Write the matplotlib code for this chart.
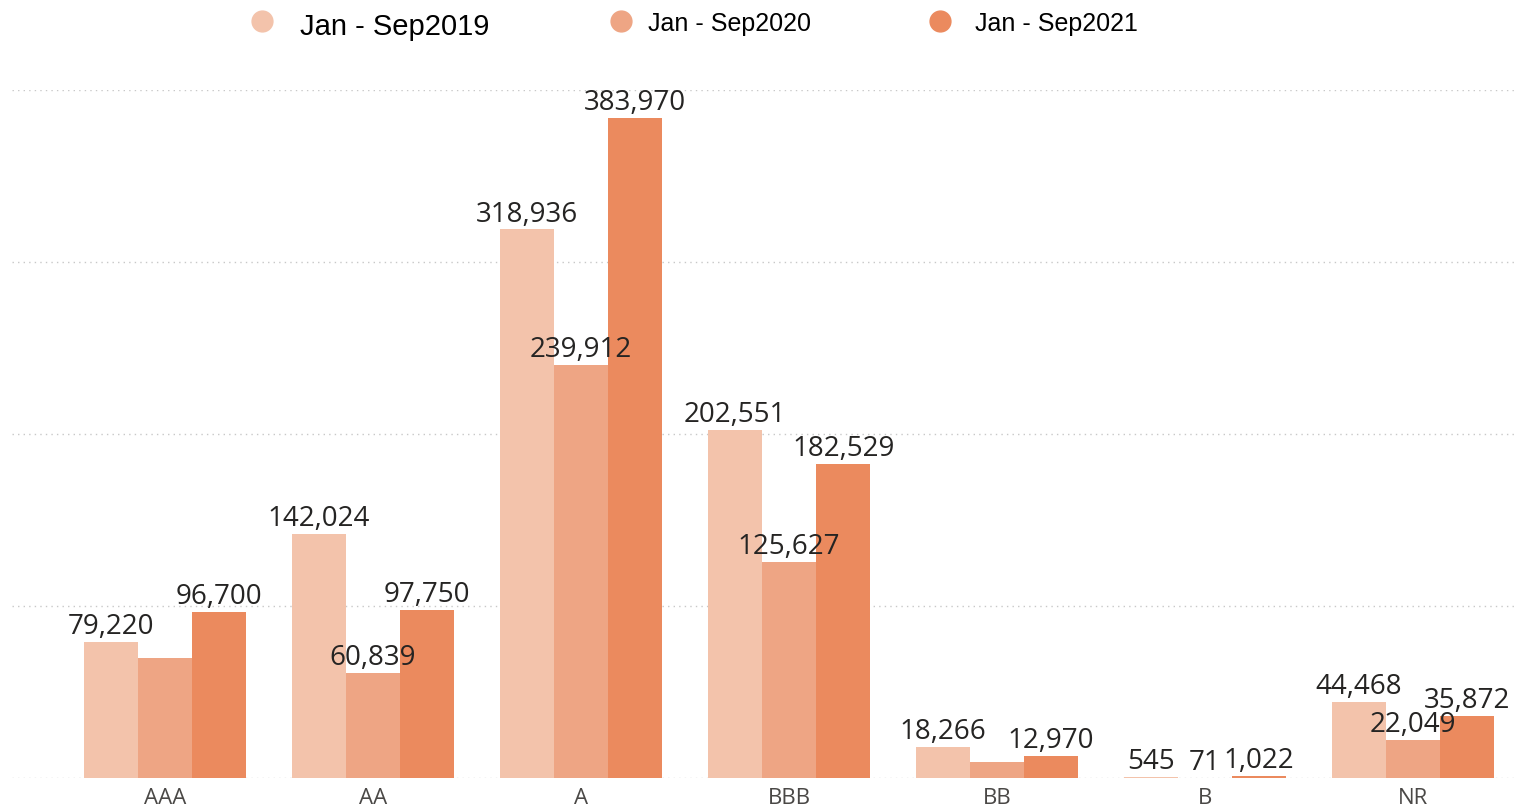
import numpy as np
import matplotlib.pyplot as plt
from matplotlib.lines import Line2D

ratings = ['AAA', 'AA', 'A', 'BBB', 'BB', 'B', 'NR']
periods = ['Jan - Sep2019', 'Jan - Sep2020', 'Jan - Sep2021']
v2019 = [79220, 142024, 318936, 202551, 18266, 545, 44468]
v2020 = [69700, 60839, 239912, 125627, 9300, 71, 22049]
v2021 = [96700, 97750, 383970, 182529, 12970, 1022, 35872]
# labels that are not shown on the chart
hidden = {(1, 0), (1, 4)}

colors = ['#F3C3AB', '#EEA584', '#EB8A5E']

fig = plt.figure(figsize=(15.19, 8.07), dpi=100)
ax = fig.add_axes([12 / 1519, 29 / 807, 1503 / 1519, 688 / 807])

x = np.arange(len(ratings))
w = 0.26
for s, vals in enumerate([v2019, v2020, v2021]):
    pos = x + (s - 1) * w
    ax.bar(pos, vals, width=w, color=colors[s], zorder=2)
    for i, v in enumerate(vals):
        if (s, i) in hidden:
            continue
        ax.text(pos[i], v + 500, f'{v:,}', ha='center', va='bottom',
                fontsize=20, color='#252423', family='Open Sans', zorder=3)

ax.set_xlim(-0.736, 6.49)
ax.set_ylim(0, 400000)
ax.set_yticks([0, 100000, 200000, 300000, 400000])
ax.yaxis.grid(True, linestyle=(0, (1, 3)), color='#C8C8C8', linewidth=1)
ax.set_axisbelow(True)
ax.tick_params(axis='y', left=False, labelleft=False)
ax.tick_params(axis='x', length=0, pad=7)
ax.set_xticks(x)
ax.set_xticklabels(ratings, fontsize=16, color='#4A4846', family='Open Sans')
for sp in ax.spines.values():
    sp.set_visible(False)

# legend drawn along the top of the figure
marker_x = [262, 621, 940]
text_x = [300, 648, 975]
sizes = [21, 18, 18]
text_y = [27, 24, 24]
for mx, tx, ty, c, lab, fs in zip(marker_x, text_x, text_y, colors, periods, sizes):
    fig.add_artist(Line2D([mx / 1519], [1 - 21 / 807], marker='o', markersize=15,
                          color=c, transform=fig.transFigure, linestyle='none'))
    fig.text(tx / 1519, 1 - ty / 807, lab, fontsize=fs, family='Liberation Sans',
             va='center', ha='left', color='black')

fig.savefig('out.png', dpi=100)
